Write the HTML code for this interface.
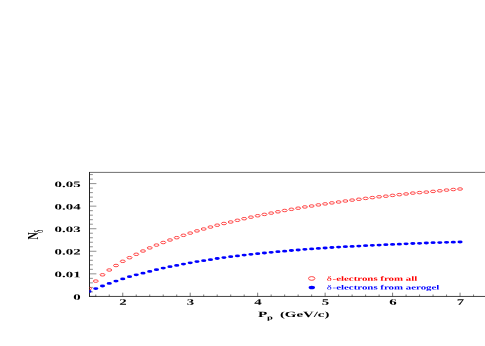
<!DOCTYPE html>
<html><head><meta charset="utf-8"><title>plot</title>
<style>html,body{margin:0;padding:0;background:#fff;}svg{display:block;will-change:transform;font-family:"Liberation Serif",serif;}</style></head><body>
<svg width="485" height="346" viewBox="0 0 485 346">
<rect width="485" height="346" fill="#fff"/>
<defs><clipPath id="c"><rect x="89.4" y="172.4" width="400" height="124.0"/></clipPath></defs>
<g stroke="#222" stroke-width="0.85" fill="none">
<path d="M89.50 172.00 V296.90" stroke-width="1"/>
<path d="M89.00 172.40 H486" stroke-width="0.65"/>
<path d="M89.00 296.45 H486" stroke-width="0.85"/>
</g>
<path d="M89.40 296.40 h7.0 M89.40 291.89 h3.5 M89.40 287.38 h3.5 M89.40 282.86 h3.5 M89.40 278.35 h3.5 M89.40 273.84 h7.0 M89.40 269.33 h3.5 M89.40 264.82 h3.5 M89.40 260.30 h3.5 M89.40 255.79 h3.5 M89.40 251.28 h7.0 M89.40 246.77 h3.5 M89.40 242.26 h3.5 M89.40 237.74 h3.5 M89.40 233.23 h3.5 M89.40 228.72 h7.0 M89.40 224.21 h3.5 M89.40 219.70 h3.5 M89.40 215.18 h3.5 M89.40 210.67 h3.5 M89.40 206.16 h7.0 M89.40 201.65 h3.5 M89.40 197.14 h3.5 M89.40 192.62 h3.5 M89.40 188.11 h3.5 M89.40 183.60 h7.0 M89.40 179.09 h3.5 M89.40 174.58 h3.5" stroke="#222" stroke-width="0.5" fill="none"/>
<path d="M95.77 296.40 v-1.9 M109.26 296.40 v-1.9 M122.75 296.40 v-3.7 M136.24 296.40 v-1.9 M149.73 296.40 v-1.9 M163.23 296.40 v-1.9 M176.72 296.40 v-1.9 M190.21 296.40 v-3.7 M203.70 296.40 v-1.9 M217.19 296.40 v-1.9 M230.69 296.40 v-1.9 M244.18 296.40 v-1.9 M257.67 296.40 v-3.7 M271.16 296.40 v-1.9 M284.65 296.40 v-1.9 M298.15 296.40 v-1.9 M311.64 296.40 v-1.9 M325.13 296.40 v-3.7 M338.62 296.40 v-1.9 M352.11 296.40 v-1.9 M365.61 296.40 v-1.9 M379.10 296.40 v-1.9 M392.59 296.40 v-3.7 M406.08 296.40 v-1.9 M419.57 296.40 v-1.9 M433.07 296.40 v-1.9 M446.56 296.40 v-1.9 M460.05 296.40 v-3.7 M473.54 296.40 v-1.9" stroke="#222" stroke-width="0.6" fill="none"/>
<g font-weight="bold" font-size="8.4" fill="#000">
<text transform="translate(80.6,299.70) rotate(0.05) scale(1.77,1)" text-anchor="end">0</text>
<text transform="translate(80.6,277.14) rotate(0.05) scale(1.77,1)" text-anchor="end">0.01</text>
<text transform="translate(80.6,254.58) rotate(0.05) scale(1.77,1)" text-anchor="end">0.02</text>
<text transform="translate(80.6,232.02) rotate(0.05) scale(1.77,1)" text-anchor="end">0.03</text>
<text transform="translate(80.6,209.46) rotate(0.05) scale(1.77,1)" text-anchor="end">0.04</text>
<text transform="translate(80.6,186.90) rotate(0.05) scale(1.77,1)" text-anchor="end">0.05</text>
<text transform="translate(123.05,304.75) rotate(0.05) scale(1.77,1)" text-anchor="middle">2</text>
<text transform="translate(190.51,304.75) rotate(0.05) scale(1.77,1)" text-anchor="middle">3</text>
<text transform="translate(257.97,304.75) rotate(0.05) scale(1.77,1)" text-anchor="middle">4</text>
<text transform="translate(325.43,304.75) rotate(0.05) scale(1.77,1)" text-anchor="middle">5</text>
<text transform="translate(392.89,304.75) rotate(0.05) scale(1.77,1)" text-anchor="middle">6</text>
<text transform="translate(460.35,304.75) rotate(0.05) scale(1.77,1)" text-anchor="middle">7</text>
</g>
<g font-weight="bold" fill="#000">
<text transform="translate(258.1,316.9) rotate(0.05) scale(1.867,1)" font-size="8.1">P</text>
<text transform="translate(266.9,319.5) rotate(0.05) scale(1.7,1)" font-size="6.2">p</text>
<text transform="translate(279.9,316.9) rotate(0.05) scale(1.835,1)" font-size="8.1">(GeV/c)</text>
</g>
<text transform="translate(38,239.4) scale(1,0.68) rotate(-90)" font-size="14.6" font-weight="bold">N</text>
<text transform="translate(43.4,233.0) scale(1,0.62) rotate(-90)" font-size="11.5">δ</text>
<ellipse cx="311.7" cy="278.45" rx="3.2" ry="1.85" fill="none" stroke="#ff1a1a" stroke-width="0.8"/>
<ellipse cx="311.8" cy="287.4" rx="3.2" ry="1.75" fill="#00f"/>
<g font-weight="bold" font-size="11.5">
<text transform="translate(326.8,280.7) rotate(0.05) scale(0.946,0.58)" fill="#f00"><tspan font-weight="normal" font-size="11.2">δ</tspan><tspan dx="0.8">-electrons from all</tspan></text>
<text transform="translate(326.8,289.5) rotate(0.05) scale(0.946,0.58)" fill="#00f"><tspan font-weight="normal" font-size="11.2">δ</tspan><tspan dx="0.8">-electrons from aerogel</tspan></text>
</g>
<g clip-path="url(#c)">
<g fill="none" stroke="#ff1a1a" stroke-width="0.8">
<ellipse cx="89.02" cy="288.60" rx="2.5" ry="1.25"/>
<ellipse cx="95.77" cy="281.10" rx="2.5" ry="1.25"/>
<ellipse cx="102.51" cy="274.80" rx="2.5" ry="1.25"/>
<ellipse cx="109.26" cy="270.00" rx="2.5" ry="1.25"/>
<ellipse cx="116.00" cy="265.50" rx="2.5" ry="1.25"/>
<ellipse cx="122.75" cy="261.30" rx="2.5" ry="1.25"/>
<ellipse cx="129.50" cy="257.70" rx="2.5" ry="1.25"/>
<ellipse cx="136.24" cy="254.30" rx="2.5" ry="1.25"/>
<ellipse cx="142.99" cy="251.00" rx="2.5" ry="1.25"/>
<ellipse cx="149.73" cy="247.90" rx="2.5" ry="1.25"/>
<ellipse cx="156.48" cy="245.10" rx="2.5" ry="1.25"/>
<ellipse cx="163.23" cy="242.50" rx="2.5" ry="1.25"/>
<ellipse cx="169.97" cy="240.00" rx="2.5" ry="1.25"/>
<ellipse cx="176.72" cy="237.70" rx="2.5" ry="1.25"/>
<ellipse cx="183.46" cy="235.30" rx="2.5" ry="1.25"/>
<ellipse cx="190.21" cy="233.10" rx="2.5" ry="1.25"/>
<ellipse cx="196.96" cy="230.90" rx="2.5" ry="1.25"/>
<ellipse cx="203.70" cy="229.00" rx="2.5" ry="1.25"/>
<ellipse cx="210.45" cy="227.05" rx="2.5" ry="1.25"/>
<ellipse cx="217.19" cy="225.20" rx="2.5" ry="1.25"/>
<ellipse cx="223.94" cy="223.50" rx="2.5" ry="1.25"/>
<ellipse cx="230.69" cy="222.00" rx="2.5" ry="1.25"/>
<ellipse cx="237.43" cy="220.30" rx="2.5" ry="1.25"/>
<ellipse cx="244.18" cy="218.70" rx="2.5" ry="1.25"/>
<ellipse cx="250.92" cy="217.15" rx="2.5" ry="1.25"/>
<ellipse cx="257.67" cy="215.75" rx="2.5" ry="1.25"/>
<ellipse cx="264.42" cy="214.40" rx="2.5" ry="1.25"/>
<ellipse cx="271.16" cy="213.10" rx="2.5" ry="1.25"/>
<ellipse cx="277.91" cy="211.80" rx="2.5" ry="1.25"/>
<ellipse cx="284.65" cy="210.50" rx="2.5" ry="1.25"/>
<ellipse cx="291.40" cy="209.30" rx="2.5" ry="1.25"/>
<ellipse cx="298.15" cy="208.20" rx="2.5" ry="1.25"/>
<ellipse cx="304.89" cy="206.95" rx="2.5" ry="1.25"/>
<ellipse cx="311.64" cy="206.00" rx="2.5" ry="1.25"/>
<ellipse cx="318.38" cy="204.90" rx="2.5" ry="1.25"/>
<ellipse cx="325.13" cy="203.90" rx="2.5" ry="1.25"/>
<ellipse cx="331.88" cy="202.90" rx="2.5" ry="1.25"/>
<ellipse cx="338.62" cy="202.00" rx="2.5" ry="1.25"/>
<ellipse cx="345.37" cy="201.00" rx="2.5" ry="1.25"/>
<ellipse cx="352.11" cy="200.10" rx="2.5" ry="1.25"/>
<ellipse cx="358.86" cy="199.25" rx="2.5" ry="1.25"/>
<ellipse cx="365.61" cy="198.40" rx="2.5" ry="1.25"/>
<ellipse cx="372.35" cy="197.60" rx="2.5" ry="1.25"/>
<ellipse cx="379.10" cy="196.80" rx="2.5" ry="1.25"/>
<ellipse cx="385.84" cy="196.20" rx="2.5" ry="1.25"/>
<ellipse cx="392.59" cy="195.40" rx="2.5" ry="1.25"/>
<ellipse cx="399.34" cy="194.65" rx="2.5" ry="1.25"/>
<ellipse cx="406.08" cy="193.95" rx="2.5" ry="1.25"/>
<ellipse cx="412.83" cy="193.10" rx="2.5" ry="1.25"/>
<ellipse cx="419.57" cy="192.60" rx="2.5" ry="1.25"/>
<ellipse cx="426.32" cy="192.10" rx="2.5" ry="1.25"/>
<ellipse cx="433.07" cy="191.40" rx="2.5" ry="1.25"/>
<ellipse cx="439.81" cy="190.80" rx="2.5" ry="1.25"/>
<ellipse cx="446.56" cy="190.10" rx="2.5" ry="1.25"/>
<ellipse cx="453.30" cy="189.50" rx="2.5" ry="1.25"/>
<ellipse cx="460.05" cy="189.00" rx="2.5" ry="1.25"/>
</g><g fill="#00f">
<ellipse cx="89.02" cy="291.50" rx="2.6" ry="1.4"/>
<ellipse cx="95.77" cy="288.60" rx="2.6" ry="1.4"/>
<ellipse cx="102.51" cy="286.00" rx="2.6" ry="1.4"/>
<ellipse cx="109.26" cy="283.40" rx="2.6" ry="1.4"/>
<ellipse cx="116.00" cy="281.10" rx="2.6" ry="1.4"/>
<ellipse cx="122.75" cy="278.90" rx="2.6" ry="1.4"/>
<ellipse cx="129.50" cy="276.70" rx="2.6" ry="1.4"/>
<ellipse cx="136.24" cy="274.80" rx="2.6" ry="1.4"/>
<ellipse cx="142.99" cy="273.20" rx="2.6" ry="1.4"/>
<ellipse cx="149.73" cy="271.40" rx="2.6" ry="1.4"/>
<ellipse cx="156.48" cy="269.65" rx="2.6" ry="1.4"/>
<ellipse cx="163.23" cy="268.10" rx="2.6" ry="1.4"/>
<ellipse cx="169.97" cy="266.70" rx="2.6" ry="1.4"/>
<ellipse cx="176.72" cy="265.40" rx="2.6" ry="1.4"/>
<ellipse cx="183.46" cy="264.10" rx="2.6" ry="1.4"/>
<ellipse cx="190.21" cy="262.80" rx="2.6" ry="1.4"/>
<ellipse cx="196.96" cy="261.60" rx="2.6" ry="1.4"/>
<ellipse cx="203.70" cy="260.65" rx="2.6" ry="1.4"/>
<ellipse cx="210.45" cy="259.65" rx="2.6" ry="1.4"/>
<ellipse cx="217.19" cy="258.50" rx="2.6" ry="1.4"/>
<ellipse cx="223.94" cy="257.60" rx="2.6" ry="1.4"/>
<ellipse cx="230.69" cy="256.70" rx="2.6" ry="1.4"/>
<ellipse cx="237.43" cy="255.90" rx="2.6" ry="1.4"/>
<ellipse cx="244.18" cy="255.10" rx="2.6" ry="1.4"/>
<ellipse cx="250.92" cy="254.35" rx="2.6" ry="1.4"/>
<ellipse cx="257.67" cy="253.65" rx="2.6" ry="1.4"/>
<ellipse cx="264.42" cy="253.00" rx="2.6" ry="1.4"/>
<ellipse cx="271.16" cy="252.30" rx="2.6" ry="1.4"/>
<ellipse cx="277.91" cy="251.70" rx="2.6" ry="1.4"/>
<ellipse cx="284.65" cy="251.20" rx="2.6" ry="1.4"/>
<ellipse cx="291.40" cy="250.50" rx="2.6" ry="1.4"/>
<ellipse cx="298.15" cy="250.00" rx="2.6" ry="1.4"/>
<ellipse cx="304.89" cy="249.35" rx="2.6" ry="1.4"/>
<ellipse cx="311.64" cy="248.95" rx="2.6" ry="1.4"/>
<ellipse cx="318.38" cy="248.40" rx="2.6" ry="1.4"/>
<ellipse cx="325.13" cy="248.00" rx="2.6" ry="1.4"/>
<ellipse cx="331.88" cy="247.50" rx="2.6" ry="1.4"/>
<ellipse cx="338.62" cy="247.10" rx="2.6" ry="1.4"/>
<ellipse cx="345.37" cy="246.70" rx="2.6" ry="1.4"/>
<ellipse cx="352.11" cy="246.40" rx="2.6" ry="1.4"/>
<ellipse cx="358.86" cy="246.05" rx="2.6" ry="1.4"/>
<ellipse cx="365.61" cy="245.70" rx="2.6" ry="1.4"/>
<ellipse cx="372.35" cy="245.30" rx="2.6" ry="1.4"/>
<ellipse cx="379.10" cy="245.10" rx="2.6" ry="1.4"/>
<ellipse cx="385.84" cy="244.70" rx="2.6" ry="1.4"/>
<ellipse cx="392.59" cy="244.40" rx="2.6" ry="1.4"/>
<ellipse cx="399.34" cy="244.20" rx="2.6" ry="1.4"/>
<ellipse cx="406.08" cy="243.80" rx="2.6" ry="1.4"/>
<ellipse cx="412.83" cy="243.50" rx="2.6" ry="1.4"/>
<ellipse cx="419.57" cy="243.30" rx="2.6" ry="1.4"/>
<ellipse cx="426.32" cy="243.00" rx="2.6" ry="1.4"/>
<ellipse cx="433.07" cy="242.70" rx="2.6" ry="1.4"/>
<ellipse cx="439.81" cy="242.60" rx="2.6" ry="1.4"/>
<ellipse cx="446.56" cy="242.30" rx="2.6" ry="1.4"/>
<ellipse cx="453.30" cy="242.20" rx="2.6" ry="1.4"/>
<ellipse cx="460.05" cy="242.00" rx="2.6" ry="1.4"/>
</g></g>
</svg></body></html>
